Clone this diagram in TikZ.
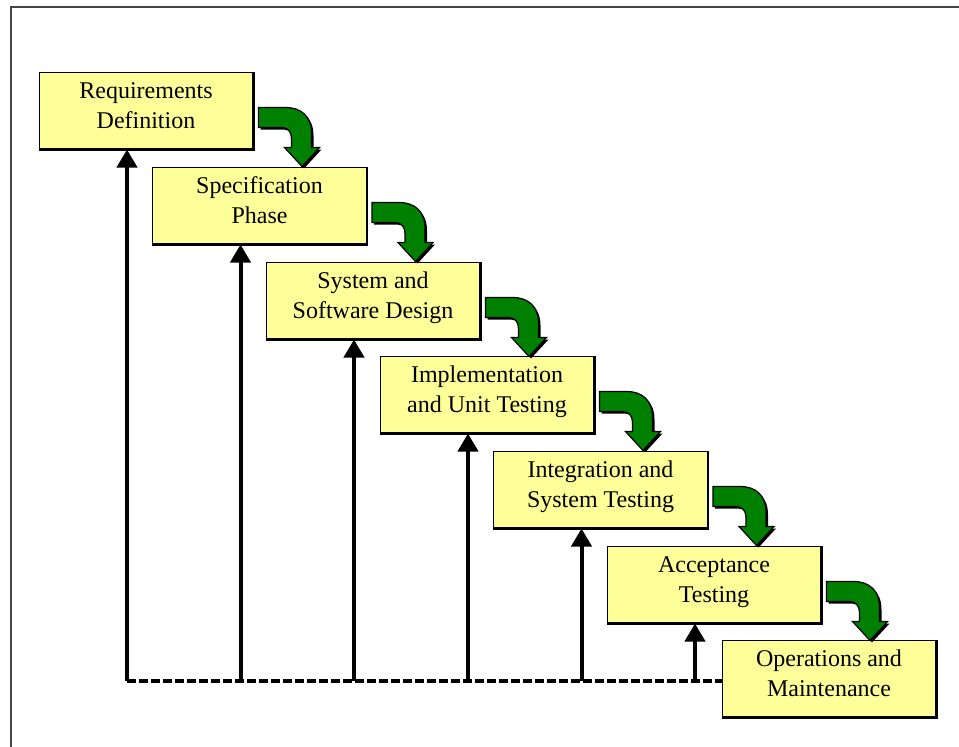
\documentclass[tikz,border=0pt]{standalone}
\usepackage{fontspec}
\setmainfont{Liberation Serif}
\usetikzlibrary{arrows.meta}
\definecolor{boxyellow}{RGB}{255,255,153}
\definecolor{arrowgreen}{RGB}{0,128,0}
\tikzset{
  stage/.style={draw=black, line width=1pt, fill=boxyellow, minimum width=214pt, minimum height=77pt, inner sep=0pt},
  stagetext/.style={anchor=base, font=\fontsize{24}{28}\selectfont, inner sep=0pt},
  varrow/.style={line width=4pt, -{Triangle[width=20pt,length=18pt]}},
  dashbase/.style={line width=4pt, dash pattern=on 9pt off 3pt},
  shadowedge/.style={line width=2.5pt},
  frameline/.style={draw={rgb,255:red,70;green,70;blue,70}, line width=1.5pt}
}
\newcommand\arrowshape[1]{\path[#1] (5,36) -- (32,36) .. controls (48,36) and (58,45) .. (58,62) -- (58,76) -- (66,76) -- (48.5,95) -- (31,76) -- (38,76) -- (38,67) .. controls (38,60) and (34,56) .. (28,56) -- (5,56) -- cycle;}
\newcommand\flowarrow[1]{%
  \begin{scope}[shift={(#1.north east)}]
    \begin{scope}[shift={(2,2)}]\arrowshape{fill=black}\end{scope}
    \arrowshape{fill=arrowgreen, draw=black, line width=1.2pt}
  \end{scope}}
\newcommand\stagebox[5]{%
  \node[stage] (#1) at (#2,#3) {};
  \draw[shadowedge] (#1.south west) -- (#1.south east) -- (#1.north east);
  \node[stagetext] (#1t1) at (#2,#3-12.5) {#4};
  \node[stagetext] (#1t2) at (#2,#3+17.5) {#5};}
\begin{document}
\begin{tikzpicture}[x=1pt,y=-1pt]
\useasboundingbox (0,0) rectangle (959,747);
\draw[frameline] (11,747) -- (11,7) -- (959,7);
% base points of the vertical arrows
\coordinate (p1) at (127,681);
\coordinate (p2) at (240.5,681);
\coordinate (p3) at (354,681);
\coordinate (p4) at (468,681);
\coordinate (p5) at (581.5,681);
\coordinate (p6) at (695,681);
\coordinate (pe) at (722,681);
\draw[dashbase] (p1) -- (pe);
% stages
\stagebox{b1}{146}{110.5}{Requirements}{Definition}
\stagebox{b2}{259.5}{205.5}{Specification}{Phase}
\stagebox{b3}{373}{300.5}{System and}{Software Design}
\stagebox{b4}{487}{394.5}{Implementation}{and Unit Testing}
\stagebox{b5}{600.5}{489.5}{Integration and}{System Testing}
\stagebox{b6}{714}{584.5}{Acceptance}{Testing}
\stagebox{b7}{829}{678.5}{Operations and}{Maintenance}
% vertical feedback arrows
\draw[varrow] (p1) -- (p1 |- b1.south);
\draw[varrow] (p2) -- (p2 |- b2.south);
\draw[varrow] (p3) -- (p3 |- b3.south);
\draw[varrow] (p4) -- (p4 |- b4.south);
\draw[varrow] (p5) -- (p5 |- b5.south);
\draw[varrow] (p6) -- (p6 |- b6.south);
% green flow arrows
\flowarrow{b1}
\flowarrow{b2}
\flowarrow{b3}
\flowarrow{b4}
\flowarrow{b5}
\flowarrow{b6}
\end{tikzpicture}
\end{document}
